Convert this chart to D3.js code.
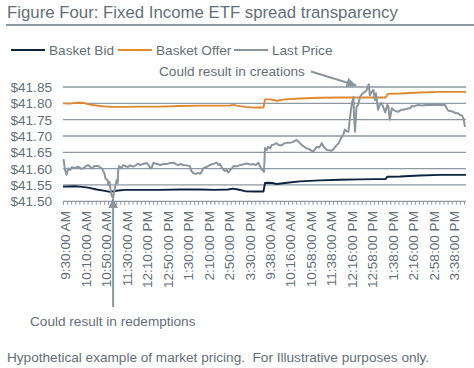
<!DOCTYPE html>
<html><head><meta charset="utf-8">
<script src="https://cdn.jsdelivr.net/npm/d3@7"></script>
<style>
html,body{margin:0;padding:0;background:#fff;}
text{font-family:"Liberation Sans",Arial,sans-serif;}
</style></head>
<body><svg id="c" width="474" height="368"></svg>
<script>
// ---- data ----
const title = "Figure Four: Fixed Income ETF spread transparency";
const footer = "Hypothetical example of market pricing.  For Illustrative purposes only.";
const seriesNames = ["Basket Bid", "Basket Offer", "Last Price"];
const seriesColors = ["#0e2340", "#e0882f", "#8a959e"];
const yTicks = [41.50, 41.55, 41.60, 41.65, 41.70, 41.75, 41.80, 41.85];
const xLabels = ["9:30:00 AM","10:10:00 AM","10:50:00 AM","11:30:00 AM","12:10:00 PM","12:50:00 PM","1:30:00 PM","2:10:00 PM","2:50:00 PM","3:30:00 PM","9:38:00 AM","10:16:00 AM","10:58:00 AM","11:38:00 AM","12:16:00 PM","12:58:00 PM","1:38:00 PM","2:16:00 PM","2:58:00 PM","3:38:00 PM"];
const xLabelSlots = [0,40,80,120,160,200,240,280,320,360,400,440,480,520,560,600,640,680,720,760];
// [slot (minute index), price]
const basketBid = [[-4,41.545],[19,41.546],[29,41.545],[45,41.542],[62,41.536],[78,41.532],[88,41.529],[104,41.533],[117,41.535],[147,41.535],[186,41.535],[225,41.536],[264,41.536],[293,41.535],[319,41.536],[328,41.539],[338,41.536],[352,41.531],[372,41.530],[388,41.530],[391,41.556],[397,41.557],[405,41.556],[414,41.553],[430,41.556],[459,41.561],[498,41.564],[538,41.566],[577,41.567],[606,41.568],[627,41.568],[630,41.575],[655,41.576],[694,41.579],[733,41.581],[784,41.581]];
const basketOffer = [[-4,41.800],[10,41.799],[23,41.802],[33,41.802],[49,41.796],[68,41.792],[88,41.789],[117,41.789],[147,41.790],[186,41.790],[225,41.792],[264,41.793],[303,41.793],[323,41.793],[328,41.796],[336,41.793],[352,41.789],[372,41.787],[388,41.787],[391,41.812],[401,41.812],[414,41.808],[430,41.812],[459,41.815],[498,41.817],[538,41.818],[577,41.818],[616,41.818],[627,41.818],[631,41.829],[655,41.830],[694,41.833],[733,41.835],[784,41.835]];
const lastPrice = [[-3,41.629],[0,41.596],[3,41.581],[6,41.601],[10,41.596],[13,41.604],[19,41.602],[26,41.606],[31,41.600],[36,41.601],[41,41.608],[45,41.611],[52,41.601],[58,41.608],[65,41.608],[68,41.604],[72,41.601],[75,41.591],[77,41.586],[79,41.570],[83,41.565],[85,41.550],[87,41.559],[90,41.525],[92,41.514],[94,41.512],[98,41.545],[101,41.565],[103,41.556],[104,41.596],[106,41.608],[109,41.601],[114,41.611],[117,41.608],[123,41.605],[127,41.610],[133,41.606],[139,41.611],[143,41.616],[147,41.611],[152,41.614],[160,41.617],[163,41.611],[166,41.604],[169,41.601],[173,41.618],[176,41.616],[182,41.614],[186,41.611],[192,41.614],[199,41.614],[205,41.617],[212,41.618],[217,41.614],[221,41.611],[227,41.614],[231,41.611],[237,41.610],[244,41.608],[247,41.593],[251,41.586],[256,41.584],[260,41.587],[264,41.584],[267,41.590],[270,41.601],[276,41.605],[280,41.608],[283,41.611],[289,41.614],[293,41.616],[297,41.618],[300,41.611],[303,41.614],[307,41.602],[310,41.596],[313,41.593],[316,41.596],[319,41.588],[323,41.596],[326,41.601],[330,41.608],[336,41.607],[342,41.611],[348,41.613],[355,41.616],[362,41.613],[368,41.614],[373,41.611],[378,41.618],[381,41.608],[385,41.596],[388,41.594],[389,41.590],[391,41.663],[394,41.657],[397,41.667],[401,41.662],[404,41.672],[409,41.674],[414,41.678],[418,41.672],[424,41.672],[428,41.677],[433,41.679],[440,41.679],[446,41.682],[453,41.688],[457,41.682],[463,41.672],[467,41.668],[472,41.662],[477,41.660],[481,41.656],[485,41.652],[489,41.660],[492,41.667],[497,41.665],[502,41.678],[506,41.666],[512,41.657],[516,41.656],[521,41.655],[526,41.662],[531,41.672],[535,41.678],[538,41.688],[541,41.697],[544,41.703],[547,41.720],[550,41.715],[554,41.713],[559,41.780],[561,41.801],[564,41.819],[565,41.764],[567,41.713],[570,41.790],[573,41.795],[577,41.820],[581,41.829],[583,41.831],[587,41.836],[590,41.841],[593,41.856],[594,41.858],[596,41.825],[600,41.836],[603,41.841],[606,41.810],[608,41.831],[612,41.780],[616,41.798],[619,41.801],[626,41.772],[630,41.795],[632,41.792],[635,41.750],[639,41.785],[642,41.780],[647,41.776],[652,41.774],[657,41.780],[661,41.780],[665,41.782],[671,41.784],[675,41.785],[678,41.792],[681,41.790],[686,41.793],[691,41.795],[698,41.793],[707,41.795],[717,41.795],[725,41.796],[733,41.795],[743,41.795],[746,41.786],[749,41.778],[755,41.776],[759,41.774],[762,41.771],[769,41.769],[772,41.764],[776,41.763],[779,41.754],[782,41.728]];
const annotations = [
  {text: "Could result in creations", slot: 593, value: 41.853},
  {text: "Could result in redemptions", slot: 94, value: 41.509}
];

// ---- drawing ----
const svg = d3.select("#c");
const textCol = "#636f79";
const gridCol = "#8e98a0";
const fs = "13.6px";

const x = d3.scaleLinear().domain([-4, 784]).range([63, 466]);
const y = d3.scaleLinear().domain([41.50, 41.85]).range([201.3, 87]);

// title
svg.append("text").attr("x", 7).attr("y", 17.5).attr("fill", textCol)
  .style("font-size", "16.8px").text(title);
svg.append("line").attr("x1", 6).attr("x2", 474).attr("y1", 25).attr("y2", 25)
  .attr("stroke", "#8f99a2").attr("stroke-width", 2);

// legend
const legX = [11, 118, 234];
seriesNames.forEach((n, i) => {
  svg.append("line").attr("x1", legX[i]).attr("x2", legX[i] + 34).attr("y1", 50).attr("y2", 50)
    .attr("stroke", seriesColors[i]).attr("stroke-width", 2);
  svg.append("text").attr("x", legX[i] + 38).attr("y", 54.8).attr("fill", textCol)
    .style("font-size", fs).text(n);
});

// gridlines + y labels
const gy = svg.append("g");
yTicks.forEach(t => {
  gy.append("line").attr("x1", x.range()[0]).attr("x2", x.range()[1])
    .attr("y1", y(t)).attr("y2", y(t)).attr("stroke", gridCol).attr("stroke-width", 1.3);
  gy.append("text").attr("x", 52).attr("y", y(t)).attr("dy", "0.36em").attr("text-anchor", "end")
    .attr("fill", textCol).style("font-size", fs).text("$" + t.toFixed(2));
});

// x minor ticks
const minor = svg.append("g").attr("transform", `translate(0,${y(41.5)})`)
  .call(d3.axisBottom(x).tickValues(d3.range(-4, 785, 8)).tickSize(3.5).tickFormat(""));
minor.select(".domain").remove();
minor.selectAll(".tick line").attr("stroke", gridCol).attr("stroke-width", 1);

// x labels
const lab = svg.append("g").attr("transform", `translate(0,211)`)
  .call(d3.axisBottom(x).tickValues(xLabelSlots).tickSize(0).tickFormat((d, i) => xLabels[i]));
lab.select(".domain").remove();
lab.selectAll(".tick text").attr("transform", "rotate(-90)").attr("text-anchor", "end")
  .attr("x", 0).attr("y", 0).attr("dy", "0.36em").attr("fill", textCol)
  .style("font-size", fs).style("font-family", '"Liberation Sans",Arial,sans-serif');

// lines
const line = d3.line().x(d => x(d[0])).y(d => y(d[1]));
[basketOffer, basketBid, lastPrice].forEach((data, k) => {
  const ci = [1, 0, 2][k];
  svg.append("path").datum(data).attr("d", line).attr("fill", "none")
    .attr("stroke", seriesColors[ci]).attr("stroke-width", ci === 2 ? 2 : 1.9)
    .attr("stroke-linejoin", "round");
});

// annotations
const defs = svg.append("defs");
defs.append("marker").attr("id", "ah").attr("viewBox", "0 0 10 10").attr("refX", 10).attr("refY", 5)
  .attr("markerWidth", 5).attr("markerHeight", 5).attr("markerUnits", "strokeWidth").attr("orient", "auto")
  .append("path").attr("d", "M0,0L10,5L0,10z").attr("fill", "#8a959e");

const a1 = annotations[0];
svg.append("text").attr("x", 159).attr("y", 76).attr("fill", textCol).style("font-size", fs).text(a1.text);
svg.append("line").attr("x1", 311).attr("y1", 71.5).attr("x2", x(a1.slot) - 12).attr("y2", y(a1.value) - 0.5)
  .attr("stroke", "#8a959e").attr("stroke-width", 2).attr("marker-end", "url(#ah)");

const a2 = annotations[1];
svg.append("line").attr("x1", x(a2.slot)).attr("y1", 307).attr("x2", x(a2.slot)).attr("y2", y(a2.value))
  .attr("stroke", "#8a959e").attr("stroke-width", 2).attr("marker-end", "url(#ah)");
svg.append("text").attr("x", 30).attr("y", 326).attr("fill", textCol).style("font-size", fs).text(a2.text);

// footer
svg.append("text").attr("x", 7).attr("y", 362).attr("fill", textCol).style("font-size", fs)
  .style("white-space", "pre").text(footer);
</script></body></html>
